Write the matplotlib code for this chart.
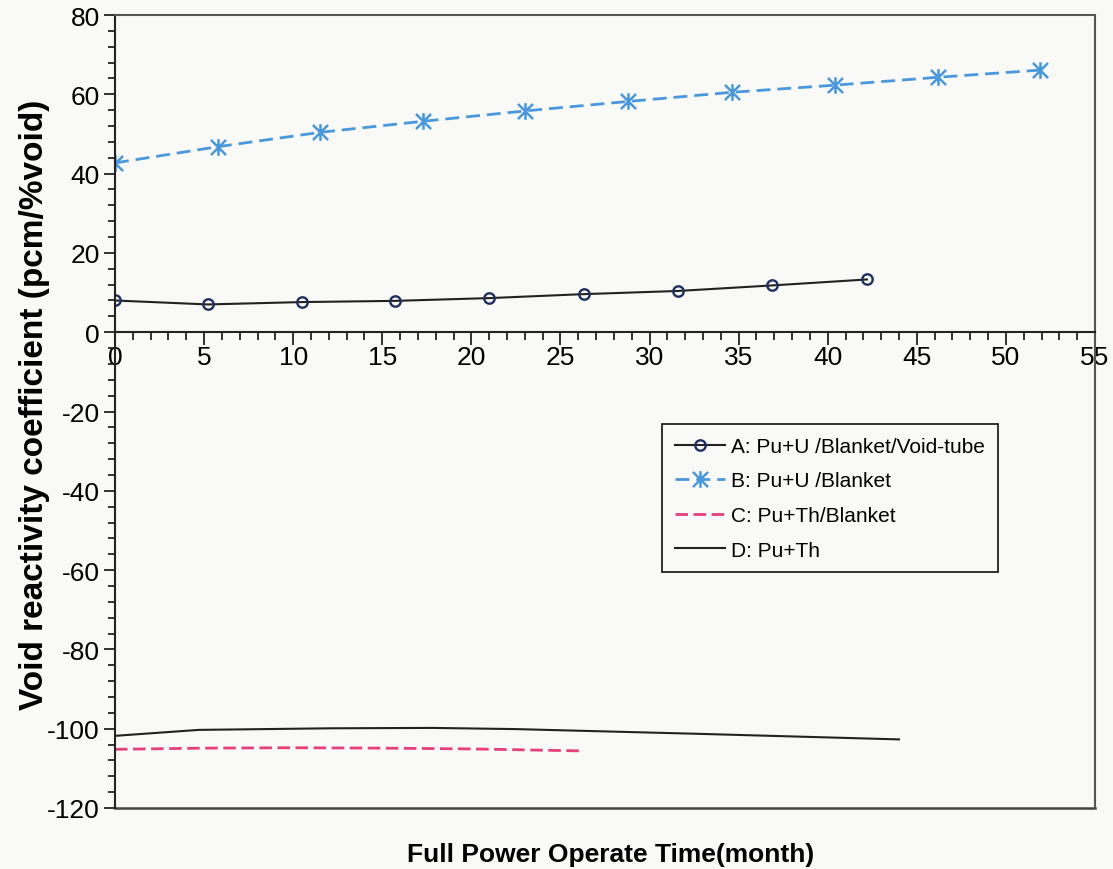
import matplotlib
matplotlib.use("Agg")
import matplotlib.pyplot as plt
from matplotlib.path import Path
from matplotlib.ticker import MultipleLocator

plt.rcParams['font.family'] = ['Liberation Sans', 'DejaVu Sans']
plt.rcParams['axes.unicode_minus'] = False

# void reactivity coefficient (pcm/%void) vs full power time (month)
a_x = [0, 5.2, 10.5, 15.7, 21.0, 26.3, 31.6, 36.9, 42.2]
a_y = [8.0, 7.0, 7.6, 7.9, 8.6, 9.6, 10.4, 11.8, 13.3]

b_x = [0, 5.8, 11.5, 17.3, 23.0, 28.8, 34.6, 40.4, 46.2, 51.9]
b_y = [42.7, 46.8, 50.4, 53.2, 55.8, 58.2, 60.5, 62.3, 64.3, 66.1]

c_x = [0, 5, 10, 15, 20, 26.2]
c_y = [-105.2, -104.9, -104.8, -104.9, -105.1, -105.6]

d_x = [0, 4.7, 12.1, 17.8, 22.5, 32.8, 44.0]
d_y = [-101.8, -100.3, -99.9, -99.8, -100.1, -101.3, -102.7]

labels = ['A: Pu+U /Blanket/Void-tube', 'B: Pu+U /Blanket',
          'C: Pu+Th/Blanket', 'D: Pu+Th']

# excel style asterisk: an x with a vertical bar through it
star = Path([(-1, -1), (1, 1), (-1, 1), (1, -1), (0, -1.1), (0, 1.1)],
            [Path.MOVETO, Path.LINETO, Path.MOVETO, Path.LINETO, Path.MOVETO, Path.LINETO])

fig = plt.figure(figsize=(11.13, 8.70), dpi=100, facecolor='#f9f9f7')
ax = fig.add_axes([115/1113, 1 - 809/870, 980/1113, 793/870])
ax.set_facecolor('#f9f9f7')

ax.plot(a_x, a_y, color='#222222', lw=1.5, marker='o', ms=7.5, mfc='none',
        mec='#1f3060', mew=1.7, label=labels[0])
ax.plot(b_x, b_y, color='#4a98dc', lw=2, ls=(0, (5, 2.5)), marker=star, ms=12,
        mew=1.8, mec='#4a98dc', label=labels[1])
ax.plot(c_x, c_y, color='#e6407a', lw=2, ls=(0, (4.5, 2)), label=labels[2])
ax.plot(d_x, d_y, color='#222222', lw=1.5, label=labels[3])

ax.set_xlim(0, 55)
ax.set_ylim(-120, 80)
ax.xaxis.set_major_locator(MultipleLocator(5))
ax.xaxis.set_minor_locator(MultipleLocator(1))
ax.yaxis.set_major_locator(MultipleLocator(20))
ax.yaxis.set_minor_locator(MultipleLocator(4))

# x axis crosses at zero, frame drawn round the rest
ax.spines['bottom'].set_position(('data', 0))
for s in ['left', 'bottom']:
    ax.spines[s].set_color('#222222')
    ax.spines[s].set_linewidth(1.5)
for s in ['top', 'right']:
    ax.spines[s].set_color('#555555')
    ax.spines[s].set_linewidth(1.5)
ax.plot([0, 1], [0, 0], transform=ax.transAxes, color='#444444', lw=1.8, clip_on=False)

ax.tick_params(axis='x', which='major', direction='out', length=9, width=1.3,
               color='#222222', labelsize=19, pad=0)
ax.tick_params(axis='x', which='minor', direction='out', length=6, width=1.3, color='#222222')
ax.tick_params(axis='y', which='major', direction='out', length=8, width=1.3,
               color='#222222', labelsize=19, pad=3)
ax.tick_params(axis='y', which='minor', direction='out', length=5, width=1.3, color='#222222')

ax.set_ylabel('Void reactivity coefficient (pcm/%void)', fontsize=24, fontweight='bold')
ax.yaxis.set_label_coords(-0.066, 0.509)
fig.text(0.549, 0.003, 'Full Power Operate Time(month)', fontsize=19, fontweight='bold',
         ha='center', va='bottom')

leg = ax.legend(loc='upper left', bbox_to_anchor=(0.548, 0.497), fontsize=15,
                frameon=True, fancybox=False, edgecolor='#222222', facecolor='#f9f9f7',
                handlelength=2.4, handletextpad=0.3, labelspacing=0.75, borderpad=0.6)
leg.get_frame().set_linewidth(1.3)
leg.get_frame().set_alpha(1)

fig.savefig('out.png', dpi=100, facecolor=fig.get_facecolor())
